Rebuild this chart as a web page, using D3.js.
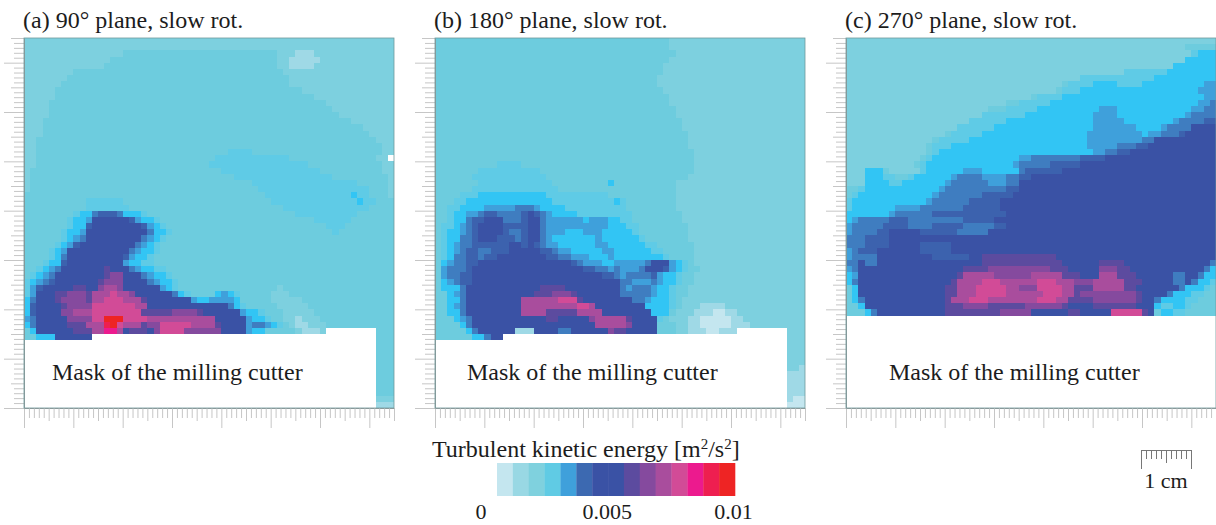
<!DOCTYPE html>
<html>
<head>
<meta charset="utf-8">
<script src="https://cdn.jsdelivr.net/npm/d3@7"></script>
<style>
  body { margin: 0; background: #fff; }
  svg { display: block; }
  text { font-family: "Liberation Serif", serif; fill: #1c1c1c; }
</style>
</head>
<body>
<svg id="chart" width="1216" height="525"></svg>
<script>
// one letter per cell, a = lowest TKE, q = highest, "." = masked by the cutter
const levelChars = "abcdefghijklmnopq";
const levelValues = [0, 0.0006, 0.0012, 0.0016, 0.002, 0.0026, 0.0032, 0.0037, 0.0041, 0.0048, 0.0056, 0.0063, 0.007, 0.0076, 0.0084, 0.0092, 0.01];
const levelColors = ["#c4e6ef", "#9fd9e6", "#7dd0df", "#6dccde", "#5fcbe6", "#32c5f4", "#3fa0db", "#3f7dc0", "#3c62ae", "#3a52a5", "#5c4b9f", "#854a9e", "#a94d9d", "#d24b97", "#ec1a8e", "#ee1f50", "#ee2424"];

const legendColors = ["#c4e6ef", "#99d8e4", "#7fd1de", "#60cbe4", "#3fa0db", "#3c69b1", "#3a52a5", "#3a52a5", "#5c4b9f", "#854a9e", "#a94d9d", "#d24b97", "#ec1a8e", "#ee1f50", "#ee2424"];
const legendTicks = [0, 0.005, 0.01];
const legendLabels = ["0", "0.005", "0.01"];

const panelTitles = ["(a) 90° plane, slow rot.", "(b) 180° plane, slow rot.", "(c) 270° plane, slow rot."];
const maskLabel = "Mask of the milling cutter";

const rowsA = [
"cccccccccc cccccccccc cccccccccc cccccccccc cccccccccc cccccccccc",
"cccccccccc cccccccccc cccccccccc cccccccccc cccccccccc cccccccccc",
"cccccccccc ccccccdddd dddddddddd dddddddddd dcccbbbccc cccccccccc",
"cccccccccc ccccdddddd dddddddddd dddddddddd dccbbbbbcc cccccccccc",
"cccccccccc cccddddddd dddddddddd dddddddddd dccbbbbccc cccccccccc",
"ccccccccdd dddddddddd dddddddddd dddddddddd ddcccccccc cccccccccc",
"cccccccddd dddddddddd dddddddddd dddddddddd dddccccccc cccccccccc",
"ccccccdddd dddddddddd dddddddddd dddddddddd dddccccccc cccccccccc",
"cccccddddd dddddddddd dddddddddd dddddddddd dddddccccc cccccccccc",
"cccccddddd dddddddddd dddddddddd dddddddddd dddddddccc cccccccccc",
"ccccdddddd dddddddddd dddddddddd dddddddddd dddddddddc cccccccccc",
"ccccdddddd dddddddddd dddddddddd dddddddddd dddddddddd cccccccccc",
"ccccdddddd dddddddddd dddddddddd dddddddddd dddddddddd dccccccccc",
"cccddddddd dddddddddd dddddddddd dddddddddd dddddddddd dddccccccc",
"cccddddddd dddddddddd dddddddddd dddddddddd dddddddddd dddddccccc",
"cccddddddd dddddddddd dddddddddd dddddddddd dddddddddd ddddddcccc",
"ccdddddddd dddddddddd dddddddddd dddddddddd dddddddddd dddddddccc",
"ccdddddddd dddddddddd dddddddddd dddddddddd dddddddddd ddddddddcc",
"ccdddddddd dddddddddd dddddddddd dddeeeeddd dddddddddd ddddddddcc",
"ccdddddddd dddddddddd dddddddddd deeeeeeeee eeedddddd ddddddddcc",
"ccdddddddd dddddddddd dddddddddd eeeeeeeeee eeeeeedddd ddddddddcc",
"cddddddddd dddddddddd dddddddddd ddeeeeeeee eeeeeeeedd ddddddddcc",
"cddddddddd dddddddddd dddddddddd ddddeeeeee eeeeeeeeee dddddddddc",
"cddddddddd dddddddddd dddddddddd dddddddeee eeeeeeeeee eeeedddddc",
"cddddddddd dddddddddd dddddddddd ddddddddee eeeeeeeeee eeeeeedddc",
"dddddddddd dddddddddd dddddddddd ddddddddde eeeeeeeeee eeefeeddd c",
"dddddddddd eeeeeedddd dddddddddd dddddddddd eeeeeeeeee eeeefeeddd",
"dddddddddd eeeeeeeddd dddddddddd dddddddddd ddeeeeeeee eeeeeedddd",
"ddddddddef fhiiihfffe dddddddddd dddddddddd ddddeeeeee eeeedddddd",
"dddddddeff gjjjjjjigf fedddddddd dddddddddd dddddddeee eeeddddddd",
"dddddddeff ijjjjjjjji gfeddddddd dddddddddd ddddddddde eedddddddd",
"ddddddeffg jjjjjjjjjj hffedddddd dddddddddd dddddddddd eddddddddd",
"ddddddefgh jjjjjjjjjh gfeddddddd dddddddddd dddddddddd dddddddddd",
"dddddefgij jjjjjjjjhg fedddddddd dddddddddd dddddddddd dddddddddd",
"ddddefgjjj jjjjjjjhgf fedddddddd dddddddddd dddddddddd dddddddddd",
"ddddefhjjj jjjjjjigff eddddddddd dddddddddd dddddddddd dddddddddd",
"dddeffijjj jjjjjjgffe eddddddddd dddddddddd dddddddddd dddddddddd",
"ddefghjjjj jjjkjjjhgf feeddddddd dddddddddd dddddddddd dddddddddd",
"defghjjjjj jjjklljjjh gffedddddd dddddddddd dddddddddd dddddddddd",
"efghijjjjj jjkllljjjj hgffeddddd dddddddddd dddddddddd dddddddddd",
"egijjjjjkk jjlmmljjjj jjgfeddddd dddddddddd dcdddddddd dddddddddd",
"egjjjkklll kmmmnmmljj jjjjhfeddd dfgfeddddd cccddddddd dddddddddd",
"fhjjjkllll kmmnnnmmmk jjjjjjjgff ggggfddddd cccccddddd dddddddddd",
"fijjjjklll lnnnnnnnmm jjjjjjjjjj jjjhfedddd dcccccdddd dddddddddd",
"fijjjjllmm mnnnnnnnnk kkkkllllkj jjjjjgffed ddcccccddd dddddddddd",
"ghjjjjjlll lnnqqqnnnn mmmmmmmmmm mjjjjjgffe ddccbcccdd dddddddddd",
"fhjjjjjkkk mmmpqnmmmk llnnnnnmmm mkjjjjghhg fedcbbcccd dddddddddd",
"dfjjjjjjkk kmmoomjkkk jlnnnnllll lljjjjgffd ddddcbbbc. .......ddd",
"ddfffjjjjj j......... .......... .......... .......... .......ddd",
"......................................................... ddd",
"......................................................... ddd",
"......................................................... ddd",
"......................................................... ddd",
"......................................................... ddd",
"......................................................... ddd",
"......................................................... ddd",
"......................................................... ddd",
"......................................................... ddd",
"......................................................... ccc",
"......................................................... bbb"
];

const rowsB = [
"dddddddddd dddddddddd dddddddddd ddddddddcc cccccccccc cccccccccc",
"dddddddddd dddddddddd dddddddddd ddddddddcc cccccccccc cccccccccc",
"dddddddddd dddddddddd dddddddddd dddddddddc cccccccccc cccccccccc",
"dddddddddd dddddddddd dddddddddd ddddddddcc cccccccccc cccccccccc",
"dddddddddd dddddddddd dddddddddd dddddddccc cccccccccc cccccccccc",
"dddddddddd dddddddddd dddddddddd dddddddccc cccccccccc cccccccccc",
"dddddddddd dddddddddd dddddddddd ddddddcccc cccccccccc cccccccccc",
"dddddddddd dddddddddd dddddddddd ddddddcccc cccccccccc cccccccccc",
"dddddddddd dddddddddd dddddddddd dddddddccc cccccccccc cccccccccc",
"dddddddddd dddddddddd dddddddddd ddddddddcc cccccccccc cccccccccc",
"dddddddddd dddddddddd dddddddddd ddddddddcc cccccccccc cccccccccc",
"dddddddddd dddddddddd dddddddddd dddddddddc cccccccccc cccccccccc",
"dddddddddd dddddddddd dddddddddd dddddddddc cccccccccc cccccccccc",
"dddddddddd dddddddddd dddddddddd dddddddddd cccccccccc cccccccccc",
"dddddddddd dddddddddd dddddddddd dddddddddd cccccccccc cccccccccc",
"dddddddddd dddddddddd dddddddddd dddddddddd dccccccccc cccccccccc",
"dddddddddd dddddddddd dddddddddd dddddddddd dccccccccc cccccccccc",
"dddddddddd dddddddddd dddddddddd dddddddddd dccccccccc cccccccccc",
"dddddddddd dddddddddd dddddddddd dddddddddd ddcccccccc cccccccccc",
"dddddddddd dddddddddd dddddddddd dddddddddd ddcccccccc cccccccccc",
"dddddddddd eeeedddddd dddddddddd dddddddddd ddcccccccc cccccccccc",
"dddddddeee eeeeeeeddd dddddddddd dddddddddd ddcccccccc cccccccccc",
"ddddddeeee eeeeeeeedd dddddddddd dddddddddd dccccccccc cccccccccc",
"dddddddeee eeeeeeeeed ddddddddfd dddddddddc cccccccccc cccccccccc",
"ddddddeeee eeeeeeeeee dddddddddd dddddddddc cccccccccc cccccccccc",
"ddddeeefff ffffffffee eeeeeeeedd dddddddddc cccccccccc cccccccccc",
"dddeefffff fffffffffe eeeeeeeeef eddddddddc cccccccccc cccccccccc",
"ddeeffffgg ggghhhgfff feeeeeeeee eddddddddc cccccccccc cccccccccc",
"ddeffgghii hhhhijihgf fffeeeeeee eedddddddd cccccccccc cccccccccc",
"ddeffhiijj jhhhijjhgg ggggfgggff eedddddddd cccccccccc cccccccccc",
"deefghijjj jiiiijjhgg ggggggggff feeddddddd dccccccccc cccccccccc",
"deffghijjj jihhijjhgg gfffgggfff ffeddddddd dccccccccc cccccccccc",
"deffhhijjj iiihijjhgf ffffffgfff fffedddddd dccccccccc cccccccccc",
"defghhiiii iijjijihgg ffffffggff ffffeedddd ddcccccccc cccccccccc",
"defghiihhi iijjjjjiih ggfffffggf fffffeeddd ddcccccccc cccccccccc",
"defhhiihii jjjjjjjjii hhgggfffgf fffffffedd ddcccccccc cccccccccc",
"dfghhiijjj jjjjjjjjjj jjihgggffg gggghjjjgf edcccccccc cccccccccc",
"dghhhijjjj jjjjjjjjjj jjjjiihhgh ggghjjjigf eddccccccc cccccccccc",
"dghhiijjjj jjjjjjjjjj jjjjjjjiih ghhhhigffe ddcccccccc cccccccccc",
"dfghiijjjj jjjjjjjjjj jjjjjjjjjj hhggghgffe ddcccccccc cccccccccc",
"dfffhjjjjj jjjjjjjkkk kjjjjjjjjj hghhhgffed dccccccccc cccccccccc",
"ddfghjjjjj jjjjjjkkkl llkjjjjjjj hhhhhgffed dccccccccc cccccccccc",
"ddffhjjjjj jjjjmmmmmm nnnkjjjjjj jjhhgfffed cccccccccc cccccccccc",
"ddfghjjjjj jjjjmmmmmm mmmnnmjjjj jjjjffffed cccbbbbccc cccccccccc",
"ddffhjjjjj jjjjmmmmkk kkkmmmmjjj jjjjjfffdc ccbbbaabbc cccccccccc",
"dddfghjjjj jjjjjjjjkk jjjjjlmmmm mkjjjjedcc cbbaaaaabb cccccccccc",
"ddddfhjjjj jjjjjjjjjj jjjjjjmmmm mljjjjdddc cbbaaaaabb bccccccccc",
"dddddfhjjj jjjbbbjjjj hhjjjjjjlk kjjjjjdddc cbbbaabbb. .......ccc",
"ddddddffhj j......... .......... .......... .......... .......ccc",
"......................................................... ccc",
"......................................................... ccc",
"......................................................... ccc",
"......................................................... ccc",
"......................................................... ccb",
"......................................................... bbb",
"......................................................... bbb",
"......................................................... bbb",
"......................................................... bbb",
"......................................................... baa",
"......................................................... aaa"
];

const rowsC = [
"cccccccccc cccccccccc cccccccccc cccccccccc cccccccccc cccccccccc",
"cccccccccc cccccccccc cccccccccc cccccccccc cccccccccc cccccddddd",
"cccccccccc cccccccccc cccccccccc cccccccccc cccccccccc ccccccefff",
"cccccccccc cccccccccc cccccccccc cccccccccc cccccccccc cccccfffff",
"cccccccccc cccccccccc cccccccccc cccccccccc cccccccccc cccfffffff",
"cccccccccc cccccccccc cccccccccc cccccccccc ccccceeeee eeffffffff",
"cccccccccc cccccccccc cccccccccc ccccccccee eeeeeeeeee ffffffffff",
"cccccccccc cccccccccc cccccccccc cccccdeeee ffffeeeeff ffffffffgg",
"cccccccccc cccccccccc cccccccccc ccccdeeeff ffffffffff fffffffggg",
"cccccccccc cccccccccc cccccccccc deeeefffff ffffffffff ffffffffgg",
"cccccccccc cccccccccc ccccccddee eeefffffff ffffffffff fffffffggh",
"cccccccccc cccccccccc cccdddeeee efffffffff fgggffffff ffffffgghh",
"cccccccccc cccccccccc cceeeeeeef ffffffffff ggggffffff fffffghhhh",
"cccccccccc cccccccccc eeeeeeffff ffffffffff gggggfffff fffghhhhii",
"cccccccccc ccccccccee eeeeffffff ffffffffff gggggggfff fghhhhjjjj",
"cccccccccc ccccccdeee eeffffffff fffffffffg ggggggggfg ghhhijjjjj",
"cccccccccc ccccdeeeee ffffffffff fffffffffg gggggggghh jjjjjjjjjj",
"cccccccccc cccdeeefff ffffffffff fffffffffg gggghhhiij jjjjjjjjjj",
"cccccccccc cccdefffff ffffffffff ffffffffff gghhiijjjj jjjjjjjjjj",
"cccccccccc ccdeffffff ffffffffgg hhhhhhhhii iijjjjjjjj jjjjjjjjjj",
"cccccccccc cdefffffff fffffffghh hhhiiiiijj jjjjjjjjjj jjjjjjjjjj",
"cccfffdccc cceffffffg ggffffffhi iiiiijjjjj jjjjjjjjjj jjjjjjjjjj",
"cccfffeedd effffffghh hhgggghhii jjjjjjjjjj jjjjjjjjjj jjjjjjjjjj",
"cccffffeef ffffffghhh hhhggghhjj jjjjjjjjjj jjjjjjjjjj jjjjjjjjjj",
"ddefffffff fffffghhhh hhhhhhiijj jjjjjjjjjj jjjjjjjjjj jjjjjjjjjj",
"deffffffff ffffghhhhh hhiiiiijjj jjjjjjjjjj jjjjjjjjjj jjjjjjjjjj",
"efffffffff fffghhhhhh iiiiijjjjj jjjjjjjjjj jjjjjjjjjj jjjjjjjjjj",
"efffffffgg gghhhhhhhi iiiiijjjjj jjjjjjjjjj jjjjjjjjjj jjjjjjjjjj",
"fffffffghh hhhhiiiiii iiiiiijjjj jjjjjjjjjj jjjjjjjjjj jjjjjjjjjj",
"fghhhhhiii hhhhhhhhhi iiiijjjjjj jjjjjjjjjj jjjjjjjjjj jjjjjjjjjj",
"ghhhhhiiii hhhhiiiiih hhhhiijjjj jjjjjjjjjj jjjjjjjjjj jjjjjjjjjj",
"ghhhhiijjj jjiiiiiihh hhhjjjjjjj jjjjjjjjjj jjjjjjjjjj jjjjjjjjjj",
"hhhiiiijjj jjjjjjjjjj jjjjjjjjjj jjjjjjjjjj jjjjjjjjjj jjjjjjjjjj",
"hhhiiiijjj jjiiiiijjj jjjjjjjjjj jjjjjjjjjj jjjjjjjjjj jjjjjjjjjj",
"ghiiijjjjj jjiiiiijjj jjjjjjjjjj jjjjjjjjjj jjjjjjjjjj jjjjjjjjjj",
"ghhhhjjjjj jjjjiiiiii jjkkkkkkkk kkkkjjjjjj jjjjjjjjjj jjjjjjjjjj",
"hhjhhjjjjj jjjjjjjjjj jjkkkkkkkk kkkkkjjjjj jkkkkjjjjj jjjjjjjjjh",
"ghjjjjjjjj jjjjjjjjjk kkklllllll lllkkkjjjj jlllkkjjjj jjjjjjjjhf",
"fgjjjjjjjj jjjjjjjjkm mmmmllllll mmmmmkkkjj jmmmkkkjjj jjjhhjjhff",
"fhjjjjjjjj jjjjjjjkmm mmnnnmmmmm mnnnmmmlll mmmmmkkkjj jjjhhjhffe",
"dfjjjjjjjj jjjjjjkkmm mnnnnnmmll lnnnnmmkkk mmmmmkkjjj jjjjhfffed",
"dfjjjjjjjj jjjjjjkkmm mnnnnnmmmm mmnnnmmkll lllllllkjj jjhfffeedd",
"dfhjjjjjjj jjjjjjkmmm nnnmmmmmmm mnnnmmkkkk lllllllkjj hffffeeddd",
"ddfjjjjjjj jjjjjjkkkl lllkkkkkkl lllllkjjjj kkkkkkkjjj feeffedddd",
"dddfhjjjjj jjjjjjkkkk kkkkklllll jjjjjjkkjj jjjnnnnnkj dffeeddddd"
];

// layout
const panelSize = 370;
const panelLefts = [24, 435, 846];
const panelTop = 38;
const panelCm = 7.5;
const cellCount = 60;

const svg = d3.select("#chart");

const heatColor = d3.scaleLinear().domain(levelValues).range(levelColors);
const xCm = d3.scaleLinear().domain([0, panelCm]).range([0, panelSize]);
const yCm = d3.scaleLinear().domain([0, panelCm]).range([panelSize, 0]);
const colBand = d3.scaleBand().domain(d3.range(cellCount)).range([0, panelSize]);
const rowBand = d3.scaleBand().domain(d3.range(cellCount)).range([0, panelSize]);

const tenths = d3.range(0, 76).map(i => i / 10);

// tick length by position: whole cm, half cm, rest
function tickLen(i) {
  if (i % 10 === 0) return 20;
  if (i % 5 === 0) return 13;
  return 10;
}

function parseRows(rows) {
  var cells = [];
  rows.forEach((row, r) => {
    row.replace(/ /g, "").split("").forEach((ch, c) => {
      var idx = levelChars.indexOf(ch);
      if (idx >= 0 && c < cellCount) cells.push({r: r, c: c, value: levelValues[idx]});
    });
  });
  return cells;
}

function drawPanel(i, rows) {
  var g = svg.append("g").attr("transform", `translate(${panelLefts[i]},${panelTop})`);

  svg.append("text")
    .attr("class", "title")
    .attr("x", panelLefts[i] - 1)
    .attr("y", 28)
    .attr("font-size", 24)
    .text(panelTitles[i]);

  // heatmap, slightly soft like the printed figure
  g.append("g")
    .style("filter", "blur(0.6px)")
    .selectAll("rect")
    .data(parseRows(rows))
    .join("rect")
    .attr("x", d => colBand(d.c))
    .attr("y", d => rowBand(d.r))
    .attr("width", colBand.bandwidth() + 0.3)
    .attr("height", rowBand.bandwidth() + 0.3)
    .attr("fill", d => heatColor(d.value))
    .attr("shape-rendering", "crispEdges");

  var xAxis = d3.axisBottom(xCm).tickValues(tenths).tickFormat("").tickSizeOuter(0);
  var yAxis = d3.axisLeft(yCm).tickValues(tenths).tickFormat("").tickSizeOuter(0);

  var gx = g.append("g").attr("transform", `translate(0,${panelSize})`).call(xAxis);
  var gy = g.append("g").call(yAxis);

  gx.selectAll(".tick line").attr("y2", (d, j) => tickLen(j)).attr("stroke", "#c6c6c6");
  gy.selectAll(".tick line").attr("x2", (d, j) => -tickLen(j)).attr("stroke", "#c6c6c6");
  gx.select(".domain").attr("stroke", "#9a9a9a");
  gy.select(".domain").attr("stroke", "#8f9a9a");

  // frame top and right
  g.append("rect")
    .attr("width", panelSize)
    .attr("height", panelSize)
    .attr("fill", "none")
    .attr("stroke", "#6f9a9c")
    .attr("stroke-width", 0.8);

  svg.append("text")
    .attr("x", panelLefts[i] + [28, 32, 43][i])
    .attr("y", 380)
    .attr("font-size", 24)
    .text(maskLabel);
}

[rowsA, rowsB, rowsC].forEach((rows, i) => drawPanel(i, rows));

// colour legend
var legendTitle = svg.append("text").attr("x", 432).attr("y", 457).attr("font-size", 24);
legendTitle.append("tspan").text("Turbulent kinetic energy [m");
legendTitle.append("tspan").attr("font-size", 15).attr("dy", -8).text("2");
legendTitle.append("tspan").attr("dy", 8).text("/s");
legendTitle.append("tspan").attr("font-size", 15).attr("dy", -8).text("2");
legendTitle.append("tspan").attr("dy", 8).text("]");

const swatchBand = d3.scaleBand().domain(d3.range(legendColors.length)).range([497, 735]);
svg.append("g").selectAll("rect")
  .data(legendColors)
  .join("rect")
  .attr("x", (d, i) => swatchBand(i))
  .attr("y", 463)
  .attr("width", swatchBand.bandwidth() + 0.3)
  .attr("height", 33)
  .attr("fill", d => d);

const legendX = d3.scaleLinear().domain([0, 0.01]).range([481, 733.5]);
svg.append("g").selectAll("text")
  .data(legendTicks)
  .join("text")
  .attr("x", d => legendX(d))
  .attr("y", 519)
  .attr("text-anchor", "middle")
  .attr("font-size", 22)
  .text((d, i) => legendLabels[i]);

// 1 cm scale bar
const barScale = d3.scaleLinear().domain([0, 1]).range([1141, 1191]);
const barAxis = d3.axisBottom(barScale).tickValues(d3.range(0, 11).map(i => i / 10)).tickFormat("").tickSizeOuter(0);
const barG = svg.append("g").attr("transform", "translate(0,450)").call(barAxis);
barG.selectAll(".tick line")
  .attr("y2", (d, i) => (i % 10 === 0 ? 19 : i === 5 ? 13 : 9))
  .attr("stroke", "#777");
barG.select(".domain").attr("stroke", "#777");

svg.append("text")
  .attr("x", 1166)
  .attr("y", 488)
  .attr("text-anchor", "middle")
  .attr("font-size", 22)
  .text("1 cm");
</script>
</body>
</html>
